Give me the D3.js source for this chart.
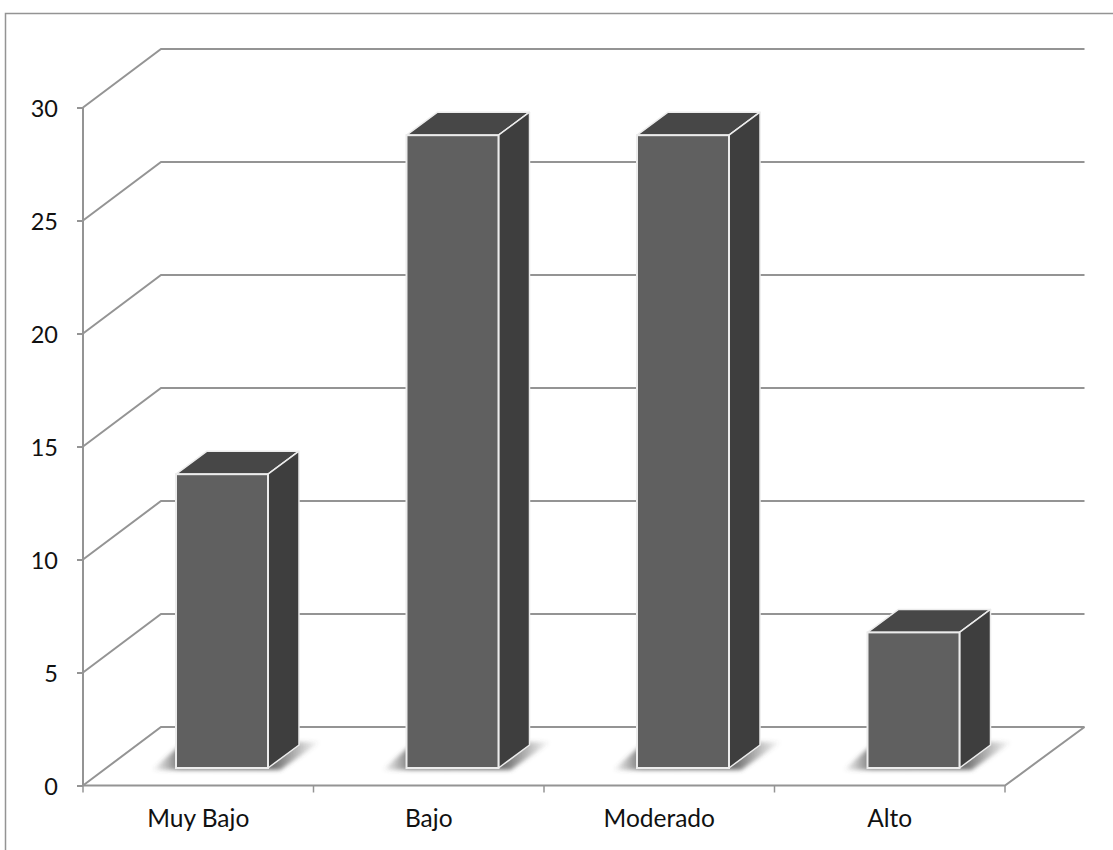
<!DOCTYPE html>
<html>
<head>
<meta charset="utf-8">
<script src="https://cdn.jsdelivr.net/npm/d3@7"></script>
<style>
html,body{margin:0;padding:0;background:#fff;}
svg{display:block;}
text{font-family:Lato,"Open Sans",sans-serif;font-size:24px;fill:#111;}
</style>
</head>
<body>
<svg id="chart" width="1113" height="850"></svg>
<script>
const categories = ["Muy Bajo", "Bajo", "Moderado", "Alto"];
const values = [13, 28, 28, 6];
const tickValues = [0, 5, 10, 15, 20, 25, 30];

const svg = d3.select("#chart");

// Plot frame and oblique projection of the chart box
const x0 = 83, x1 = 1005, y0 = 785.5, yMax = 107.5;
const wallDx = 79.5, wallDy = -58.5;
const barDx = 31, barDy = -23;
const floorLift = 17.5;       // front of the bars sits this far back on the floor
const grid = "#949494";
const yLabelSize = "23.5px", xLabelSize = "24.5px";

const y = d3.scaleLinear().domain([0, 30]).range([y0, yMax]);
const band = d3.scaleBand().domain(categories).range([x0, x1]);

const defs = svg.append("defs");
defs.append("filter").attr("id", "soft")
  .attr("x", "-30%").attr("y", "-60%").attr("width", "160%").attr("height", "220%")
  .append("feGaussianBlur").attr("stdDeviation", 2);
const shade = defs.append("linearGradient").attr("id", "floorShade");
[[0, 0], [0.16, 0.75], [0.72, 0.85], [1, 0]].forEach(([o, a]) =>
  shade.append("stop").attr("offset", o).attr("stop-color", "#555").attr("stop-opacity", a));

// Outer chart border
svg.append("path")
  .attr("d", `M5.5,850V13.5H1113`)
  .attr("fill", "none").attr("stroke", grid).attr("stroke-width", 1.5);

// Back wall gridlines with their slanted returns along the side wall
const gridG = svg.append("g").attr("fill", "none").attr("stroke", grid).attr("stroke-width", 2);
gridG.selectAll("path").data(tickValues).join("path")
  .attr("d", t => `M${x0},${y(t)}L${x0 + 78},${y(t) + wallDy}H${x1 + wallDx}`);

// Floor outline, value axis and category axis
gridG.append("path").attr("d", `M${x1 + wallDx},${y0 + wallDy}L${x1},${y0}H${x0}`);
gridG.append("path").attr("d", `M${x0},${yMax}V${y0}`);

const yAxis = d3.axisLeft(y).tickValues(tickValues).tickSize(6).tickPadding(19).tickFormat(d3.format("d"));
const gy = svg.append("g").attr("transform", `translate(${x0},0)`).call(yAxis);
gy.select(".domain").remove();
gy.selectAll("line").attr("stroke", grid).attr("stroke-width", 2);
gy.selectAll("text").attr("fill", "#111").attr("dy", "0.4em").style("font-size", yLabelSize);

const xAxis = d3.axisBottom(band).tickSize(0).tickPadding(24);
const gx = svg.append("g").attr("transform", `translate(0,${y0})`).call(xAxis);
gx.select(".domain").remove();
gx.selectAll("text").attr("fill", "#111").style("font-size", xLabelSize);
const boundaries = categories.map(c => band(c)).concat([x1]);
gx.selectAll("line.bound").data(boundaries).join("line").attr("class", "bound")
  .attr("x1", d => d).attr("x2", d => d).attr("y1", 0).attr("y2", 7)
  .attr("stroke", grid).attr("stroke-width", 1.5);

// Bars, each with a soft shadow on the floor
const barW = 92;
const left = c => band(c) + 93;
const base = y(0) - floorLift;
const barTop = v => base - (y0 - y(v));

const bars = svg.selectAll("g.bar").data(categories.map((c, i) => ({c, v: values[i]}))).join("g").attr("class", "bar");

bars.append("path")
  .attr("filter", "url(#soft)").attr("fill", "url(#floorShade)")
  .attr("d", d => {
    const l = left(d.c);
    return `M${l - 24},${base + 2}L${l + 8},${base - 26}H${l + barW + 52}L${l + barW + 12},${base + 2}Z`;
  });

bars.append("path").attr("fill", "#474747").attr("stroke", "#ececec").attr("stroke-width", 1.5)
  .attr("stroke-linejoin", "round")
  .attr("d", d => {
    const l = left(d.c), t = barTop(d.v);
    return `M${l},${t}L${l + barDx},${t + barDy}H${l + barW + barDx}L${l + barW},${t}Z`;
  });
bars.append("path").attr("fill", "#3e3e3e").attr("stroke", "#ececec").attr("stroke-width", 1.5)
  .attr("stroke-linejoin", "round")
  .attr("d", d => {
    const l = left(d.c) + barW, t = barTop(d.v);
    return `M${l},${t}L${l + barDx},${t + barDy}V${base + barDy}L${l},${base}Z`;
  });
bars.append("rect").attr("fill", "#606060").attr("stroke", "#ececec").attr("stroke-width", 2)
  .attr("x", d => left(d.c)).attr("width", barW)
  .attr("y", d => barTop(d.v)).attr("height", d => base - barTop(d.v));
</script>
</body>
</html>
